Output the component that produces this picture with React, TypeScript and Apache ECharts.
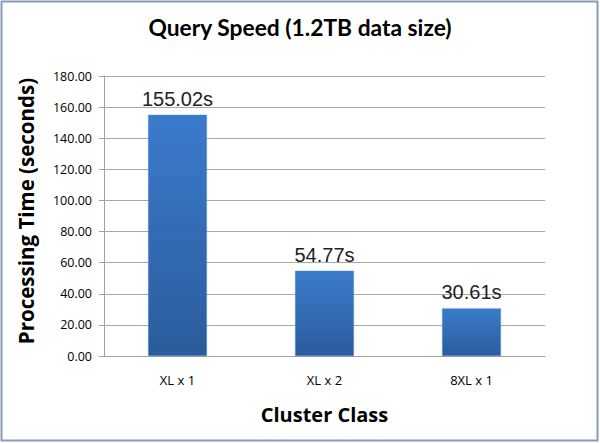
import React, { useEffect, useRef } from "react";
import * as echarts from "echarts";

const categories = ["XL x 1", "XL x 2", "8XL x 1"];
const values = [155.02, 54.77, 30.61];

export default function App() {
  const ref = useRef<HTMLDivElement>(null);
  useEffect(() => {
    const chart = echarts.init(ref.current!, null, { renderer: "svg" });
    chart.setOption({
      animation: false,
      backgroundColor: "#ffffff",
      title: {
        text: "Query Speed (1.2TB data size)",
        left: "center",
        top: 10,
        textStyle: { fontFamily: "Lato", fontWeight: "bold", fontSize: 22.8, color: "#000" },
      },
      graphic: [
        {
          type: "rect",
          shape: { x: 1.5, y: 1.5, width: 596, height: 439 },
          style: { fill: "none", stroke: "#8a9cb8", lineWidth: 2 },
          silent: true,
        },
      ],
      grid: { left: 104, right: 55, top: 76, bottom: 87 },
      xAxis: {
        type: "category",
        data: categories,
        name: "Cluster Class",
        nameLocation: "middle",
        nameGap: 48,
        nameTextStyle: { fontFamily: "Open Sans", fontWeight: "bold", fontSize: 20, color: "#000" },
        axisLine: { lineStyle: { color: "#a0a0a0" } },
        axisTick: { show: false },
        axisLabel: { fontFamily: "Open Sans", fontSize: 13, color: "#000", margin: 17 },
      },
      yAxis: {
        type: "value",
        min: 0,
        max: 180,
        interval: 20,
        name: "Processing Time (seconds)",
        nameLocation: "middle",
        nameGap: 68,
        nameTextStyle: {
          fontFamily: "Open Sans",
          fontWeight: "bold",
          fontSize: 20.5,
          color: "#000",
          padding: [0, 0, 0, 10],
        },
        axisLine: { show: true, lineStyle: { color: "#a0a0a0" } },
        axisTick: { show: true, length: 5, lineStyle: { color: "#a0a0a0" } },
        axisLabel: {
          fontFamily: "Open Sans",
          fontSize: 12.5,
          color: "#000",
          margin: 12,
          formatter: (v: number) => v.toFixed(2),
        },
        splitLine: { lineStyle: { color: "#a8a8a8" } },
      },
      series: [
        {
          type: "bar",
          data: values,
          barWidth: "40%",
          itemStyle: {
            color: new echarts.graphic.LinearGradient(0, 0, 0, 1, [
              { offset: 0, color: "#3b7bcc" },
              { offset: 1, color: "#2b5c9c" },
            ]),
            borderColor: "#4a86cf",
            borderWidth: 0.5,
          },
          label: {
            show: true,
            position: "top",
            distance: 6,
            formatter: (p: any) => p.value.toFixed(2) + "s",
            fontFamily: "Liberation Sans",
            fontSize: 20,
            color: "#222",
          },
        },
      ],
    });
    return () => chart.dispose();
  }, []);
  return (
    <div
      ref={ref}
      style={{ position: "fixed", left: 0, top: 0, width: 600, height: 443 }}
    />
  );
}
